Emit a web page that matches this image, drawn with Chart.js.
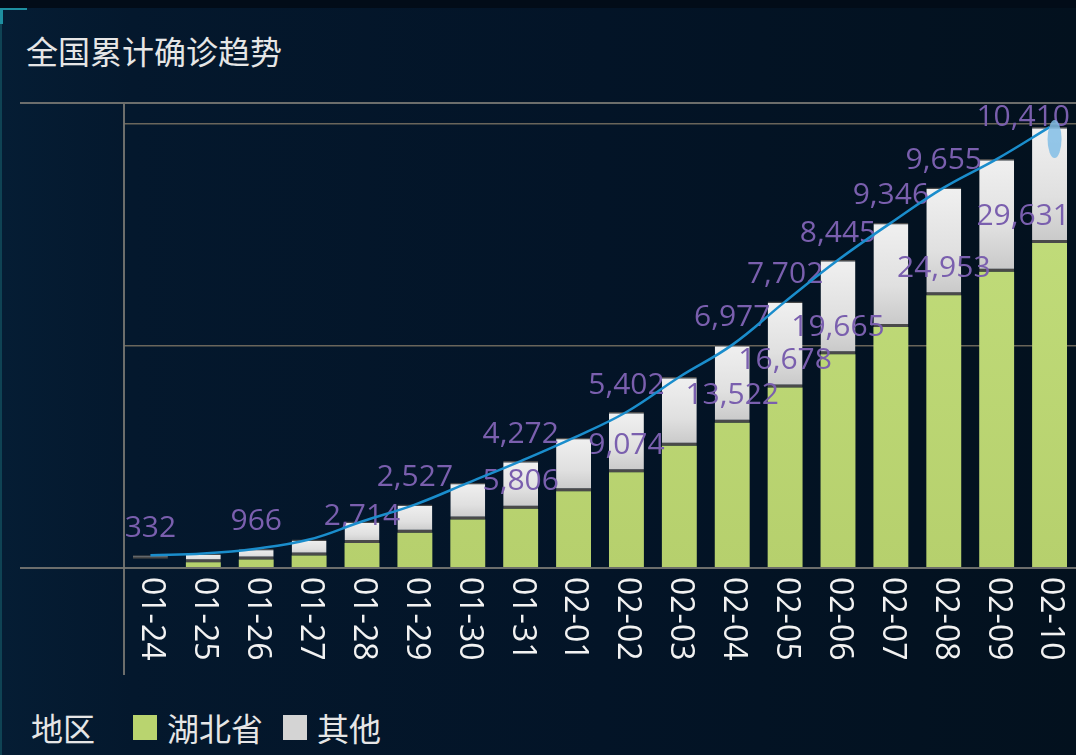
<!DOCTYPE html>
<html>
<head>
<meta charset="utf-8">
<script src="https://cdn.jsdelivr.net/npm/chart.js@4/dist/chart.umd.min.js"></script>
<style>
  html, body { margin: 0; padding: 0; }
  body {
    width: 1076px; height: 755px; overflow: hidden; position: relative;
    background: #020c18;
    font-family: "Noto Sans CJK SC", "Noto Sans", sans-serif;
  }
  #panel {
    position: absolute; left: 0; top: 8px; width: 1076px; height: 747px;
    background: linear-gradient(90deg, #051d34 0px, #04182d 130px, #031427 600px, #03111e 1076px);
    border-left: 2px solid rgba(25, 110, 130, 0.55);
    box-sizing: border-box;
  }
  #corner { position: absolute; left: 0; top: 8px; width: 24px; height: 14px;
    border-top: 2px solid #1e8fa0; border-left: 3px solid #1e8fa0; }
  #title { position: absolute; left: 26px; top: 27px; font-size: 32px; color: #e6e6e6; }
  #legend { position: absolute; left: 31px; top: 707px; font-size: 32px; color: #e6e6e6; display: flex; align-items: center; }
  #legend .box { width: 24px; height: 25px; margin-right: 10px; }
  #legend span { line-height: 40px; }
  canvas { position: absolute; left: 0; top: 0; }
</style>
</head>
<body>
<div id="panel"></div>
<div id="corner"></div>
<div id="title">全国累计确诊趋势</div>
<div id="legend">
  <span style="margin-right:38px">地区</span>
  <div class="box" id="box0"></div><span style="margin-right:20px">湖北省</span>
  <div class="box" id="box1"></div><span>其他</span>
</div>
<canvas id="chart" width="1076" height="755"></canvas>
<script>
// data
var dates = ["01-24", "01-25", "01-26", "01-27", "01-28", "01-29", "01-30", "01-31", "02-01",
  "02-02", "02-03", "02-04", "02-05", "02-06", "02-07", "02-08", "02-09", "02-10"];
var hubei = [1300, 1000, 1250, 1600, 2714, 3640, 4830, 5806, 7370,
  9074, 11450, 13522, 16678, 19665, 22100, 24953, 27050, 29631];
var other = [332, 780, 966, 1430, 1940, 2527, 3290, 4272, 4790,
  5402, 6170, 6977, 7702, 8445, 9346, 9655, 10120, 10410];
var totals = [1632, 1780, 2216, 3030, 4654, 6167, 8120, 10078, 12160,
  14476, 17620, 20499, 24380, 28110, 31446, 34608, 37170, 40041];
// which bars carry a visible value label in the source
var hubeiLabelAt = [4, 7, 9, 11, 12, 13, 15, 17];
var otherLabelAt = [0, 2, 5, 7, 9, 11, 12, 13, 14, 15, 17];
var gridTicks = [20000, 40000];

var GREEN = "#bedc78";
var GRAY = "#dcdcdc";
var LABEL = "#7a5fae";
var LINE = "#1a8dcc";

document.getElementById("box0").style.background = "#b9d46f";
document.getElementById("box1").style.background = "#d4d4d4";

function greenFill(c) {
  if (c.dataIndex === 0) return "rgba(0,0,0,0)"; // not visible in the source
  var a = c.chart.chartArea;
  if (!a) return GREEN;
  var g = c.chart.ctx.createLinearGradient(0, a.top, 0, a.bottom);
  g.addColorStop(0, "#c4e07e");
  g.addColorStop(1, "#b6d06d");
  return g;
}

function grayFill(c) {
  var chart = c.chart;
  if (!chart.chartArea) return GRAY;
  var y = chart.scales.y;
  var i = c.dataIndex;
  var top = y.getPixelForValue(hubei[i] + other[i]);
  var bot = y.getPixelForValue(hubei[i]);
  if (!isFinite(top) || !isFinite(bot) || top === bot) return GRAY;
  var g = chart.ctx.createLinearGradient(0, top, 0, bot);
  g.addColorStop(0, "#f0f0f0");
  g.addColorStop(0.6, "#e0e0e0");
  g.addColorStop(1, "#c8c8c8");
  return g;
}

var framePlugin = {
  id: "frame",
  beforeDatasetsDraw: function (chart) {
    var ctx = chart.ctx, a = chart.chartArea;
    ctx.save();
    ctx.strokeStyle = "rgba(120,120,115,0.9)";
    ctx.lineWidth = 2;
    ctx.beginPath();
    ctx.moveTo(20, a.top); ctx.lineTo(chart.width, a.top);
    ctx.moveTo(a.left, a.top); ctx.lineTo(a.left, 675);
    ctx.stroke();
    ctx.restore();
  },
  afterDatasetsDraw: function (chart) {
    var ctx = chart.ctx, a = chart.chartArea;
    ctx.save();
    ctx.strokeStyle = "rgba(120,120,115,0.9)";
    ctx.lineWidth = 2;
    ctx.beginPath();
    ctx.moveTo(20, a.bottom + 1); ctx.lineTo(chart.width, a.bottom + 1);
    ctx.stroke();
    // category labels, turned clockwise
    var xs = chart.scales.x;
    ctx.fillStyle = "#f2f2f2";
    ctx.font = "500 32px 'Open Sans'";
    ctx.textAlign = "left";
    ctx.textBaseline = "middle";
    dates.forEach(function (d, i) {
      ctx.save();
      ctx.translate(xs.getPixelForValue(i) + 1, a.bottom + 10);
      ctx.rotate(Math.PI / 2);
      ctx.fillText(d, 0, 0);
      ctx.restore();
    });
    ctx.restore();
  },
  beforeDatasetDraw: function (chart, args) {
    if (args.index !== 2) return;
    // value labels sit under the trend line
    var ctx = chart.ctx, xs = chart.scales.x, y = chart.scales.y;
    ctx.save();
    ctx.fillStyle = LABEL;
    ctx.font = "30px 'Open Sans'";
    ctx.textAlign = "center";
    ctx.textBaseline = "middle";
    function put(v, i, top) {
      var t = v.toLocaleString("en-US");
      var w = ctx.measureText(t).width;
      var x = Math.min(xs.getPixelForValue(i), chart.width - 6 - w / 2);
      ctx.fillText(t, x, Math.max(y.getPixelForValue(top) - 27, chart.chartArea.top + 14));
    }
    hubeiLabelAt.forEach(function (i) { put(hubei[i], i, hubei[i]); });
    otherLabelAt.forEach(function (i) { put(other[i], i, hubei[i] + other[i]); });
    ctx.restore();
  },
  afterDraw: function (chart) {
    var meta = chart.getDatasetMeta(2);
    var p = meta.data[meta.data.length - 1];
    if (!p) return;
    var ctx = chart.ctx;
    ctx.save();
    ctx.fillStyle = "rgba(130,190,230,0.85)";
    ctx.beginPath();
    ctx.ellipse(p.x + 5, p.y + 12, 7, 19, 0, 0, Math.PI * 2);
    ctx.fill();
    ctx.restore();
  }
};

new Chart(document.getElementById("chart"), {
  type: "bar",
  data: {
    labels: dates,
    datasets: [
      {
        label: "湖北省",
        data: hubei,
        backgroundColor: greenFill,
        borderWidth: 0,
        stack: "s",
        order: 1,
        clip: 0,
      },
      {
        label: "其他",
        data: other,
        backgroundColor: grayFill,
        borderColor: "#4a4a4a",
        borderWidth: { top: 1.5, bottom: 3, left: 0, right: 0 },
        borderSkipped: false,
        stack: "s",
        order: 1,
        clip: 0,
      },
      {
        type: "line",
        label: "合计",
        data: totals,
        borderColor: LINE,
        borderWidth: 2.5,
        pointRadius: 0,
        tension: 0.4,
        fill: false,
        order: 0,
      },
    ],
  },
  options: {
    responsive: false,
    animation: false,
    devicePixelRatio: 1,
    layout: { padding: { left: 124, top: 103, right: 0, bottom: 188 } },
    plugins: { legend: { display: false }, title: { display: false }, tooltip: { enabled: false } },
    datasets: { bar: { categoryPercentage: 1, barPercentage: 0.66 } },
    scales: {
      x: { display: false, stacked: true },
      y: { display: false, stacked: true, min: 570, max: 42200 },
      y2: {
        position: "left",
        min: 0,
        max: 41900,
        afterBuildTicks: function (s) { s.ticks = gridTicks.map(function (v) { return { value: v }; }); },
        ticks: { display: false },
        border: { display: false },
        grid: {
          drawTicks: false,
          color: "rgba(140,128,108,0.75)",
          lineWidth: 1.5,
        },
      },
    },
  },
  plugins: [framePlugin],
});
</script>
</body>
</html>
